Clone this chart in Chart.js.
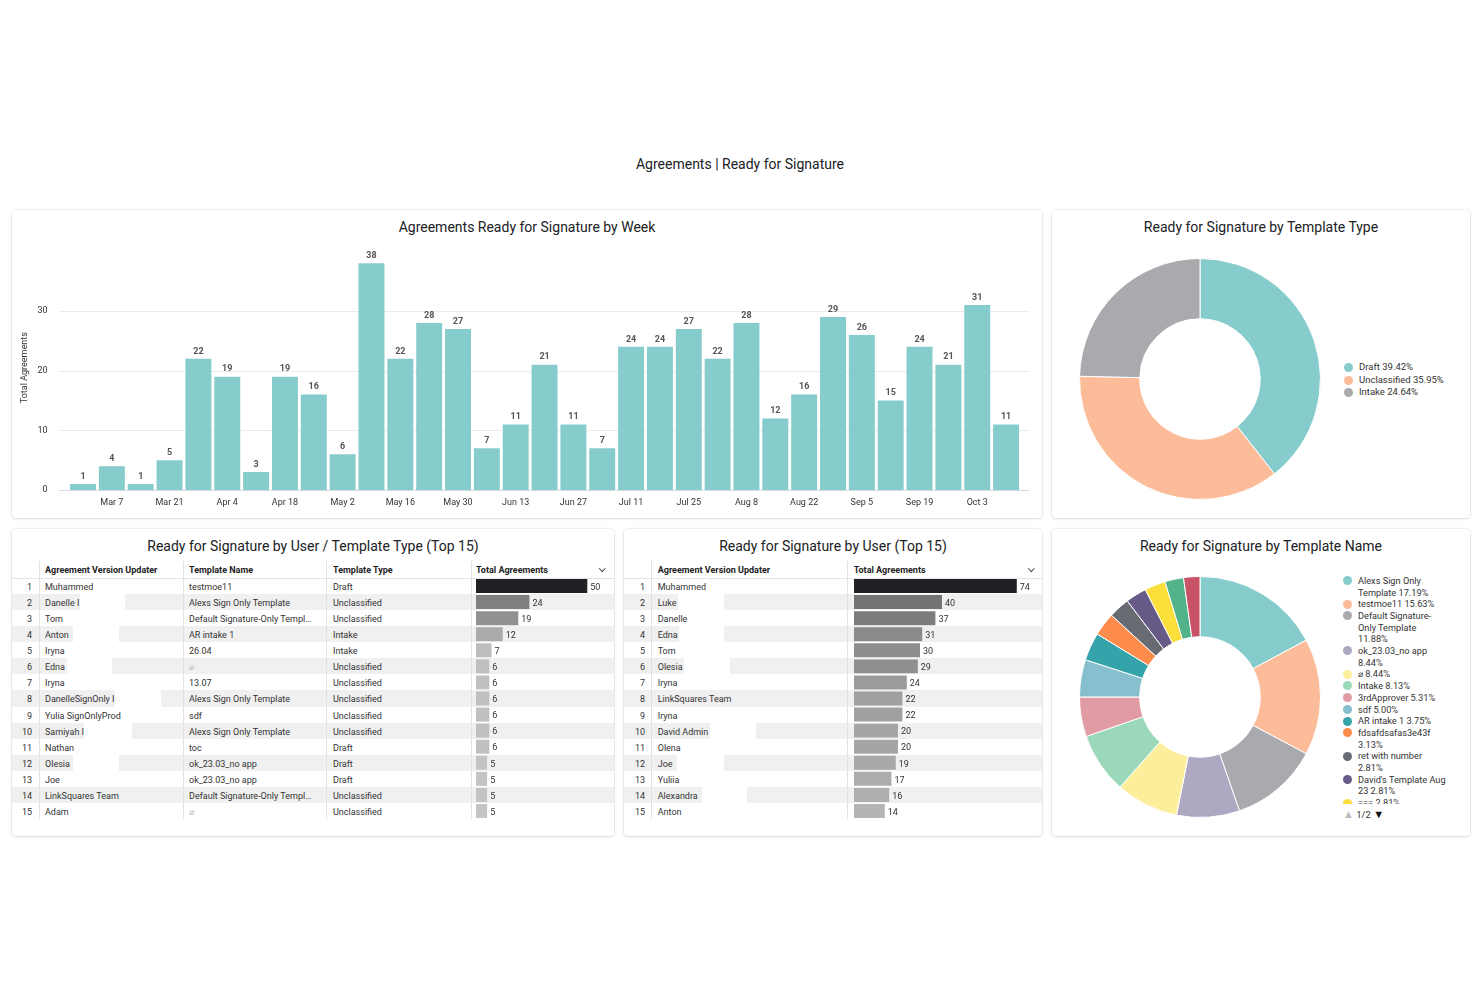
<!DOCTYPE html>
<html>
<head>
<meta charset="utf-8">
<title>Agreements | Ready for Signature</title>
<script src="https://cdn.jsdelivr.net/npm/chart.js@4.4.1/dist/chart.umd.min.js"></script>
<style>
  body { margin: 0; width: 1480px; height: 987px; background: #fff; position: relative; overflow: hidden;
         font-family: Roboto, "Noto Sans", sans-serif; color: #202124; }
  .page-title { position: absolute; left: 0; top: 156px; width: 1480px; text-align: center; font-size: 14px; }
  .card { position: absolute; background: #fff; border-radius: 4px;
          box-shadow: 0 0 0 1px rgba(0,0,0,0.05), 0 1px 3px rgba(0,0,0,0.10); }
  .card-title { position: absolute; left: 0; right: 0; top: 8px; text-align: center; font-size: 14px; line-height: 18px; }
  .box { position: absolute; }
  .row { position: absolute; left: 0; right: 0; height: 16.07px; }
  .row.alt { background: #f0f0f0; }
  .cell { position: absolute; top: 0; height: 100%; line-height: 18px; font-size: 9px; color: #333;
          white-space: nowrap; overflow: hidden; text-overflow: ellipsis; }
  .thead { position: absolute; left: 0; right: 0; height: 17px; border-bottom: 1px solid #e4e4e4; }
  .thead .cell { font-weight: bold; color: #222; line-height: 18px; }
  .sep { position: absolute; width: 1px; background: #e2e2e2; }
  .redact { position: absolute; top: 0; height: 100%; background: #fff; }
  .null { color: #bdbdbd; }
  .chev { position: absolute; width: 3.5px; height: 3.5px; border-right: 1.2px solid #444; border-bottom: 1.2px solid #444; transform: rotate(45deg); }
  .legend { position: absolute; font-size: 9.5px; color: #333; }
  .legend .item { display: flex; align-items: flex-start; }
  .legend .dot { width: 9px; height: 9px; border-radius: 50%; flex: none; margin-right: 6px; }
  .legend .txt { width: 90px; }
  #nameLegend { font-size: 9.2px; }
  #nameLegend .txt { width: 88px; }
  .pager { position: absolute; font-size: 9.5px; color: #333; }
  .pager .tri { font-size: 11px; }
</style>
</head>
<body>
<div class="page-title">Agreements | Ready for Signature</div>

<div class="card" style="left:12px;top:210px;width:1030px;height:308px">
  <div class="card-title">Agreements Ready for Signature by Week</div>
  <div class="box" style="left:0;top:30px;width:1030px;height:275px"><canvas id="weekChart"></canvas></div>
</div>

<div class="card" style="left:1052px;top:210px;width:418px;height:308px">
  <div class="card-title">Ready for Signature by Template Type</div>
  <div class="box" style="left:27px;top:48px;width:242px;height:242px"><canvas id="typeChart"></canvas></div>
  <div class="legend" id="typeLegend" style="left:292px;top:151px;line-height:12.7px"></div>
</div>

<div class="card" id="userTypeCard" style="left:12px;top:529px;width:602px;height:307px">
  <div class="card-title">Ready for Signature by User / Template Type (Top 15)</div>
  <div class="box" style="left:464px;top:49px;width:138px;height:241px"><canvas id="userTypeBars"></canvas></div>
</div>

<div class="card" id="userCard" style="left:624px;top:529px;width:418px;height:307px">
  <div class="card-title">Ready for Signature by User (Top 15)</div>
  <div class="box" style="left:229.7px;top:49px;width:188.3px;height:241px"><canvas id="userBars"></canvas></div>
</div>

<div class="card" style="left:1052px;top:529px;width:418px;height:307px">
  <div class="card-title">Ready for Signature by Template Name</div>
  <div class="box" style="left:27px;top:47px;width:242px;height:242px"><canvas id="nameChart"></canvas></div>
  <div class="legend" id="nameLegend" style="left:291px;top:45.8px;height:229px;overflow:hidden;line-height:11.7px"></div>
  <div class="pager" style="left:291px;top:279px"><span class="tri" style="color:#bbb">&#9650;</span> 1/2 <span class="tri" style="color:#111">&#9660;</span></div>
</div>

<script>
// weekly totals
var weekLabels = ["Feb 28", "Mar 7", "Mar 14", "Mar 21", "Mar 28", "Apr 4", "Apr 11", "Apr 18", "Apr 25",
  "May 2", "May 9", "May 16", "May 23", "May 30", "Jun 6", "Jun 13", "Jun 20", "Jun 27", "Jul 4", "Jul 11",
  "Jul 18", "Jul 25", "Aug 1", "Aug 8", "Aug 15", "Aug 22", "Aug 29", "Sep 5", "Sep 12", "Sep 19", "Sep 26",
  "Oct 3", "Oct 10"];
var weekCounts = [1, 4, 1, 5, 22, 19, 3, 19, 16, 6, 38, 22, 28, 27, 7, 11, 21, 11, 7, 24, 24, 27, 22, 28,
  12, 16, 29, 26, 15, 24, 21, 31, 11];
var yTicks = [0, 10, 20, 30];

// template type split
var typeLabels = ["Draft", "Unclassified", "Intake"];
var typeCounts = [216, 197, 135];

// template name split
var nameLabels = ["Alexs Sign Only Template", "testmoe11", "Default Signature-Only Template", "ok_23.03_no app",
  "\u2300", "Intake", "3rdApprover", "sdf", "AR intake 1", "fdsafdsafas3e43f", "ret with number",
  "David's Template Aug 23", "===", "Template 14", "Template 15"];
var nameCounts = [55, 50, 38, 27, 27, 26, 17, 16, 12, 10, 9, 9, 9, 8, 7];

// top 15 user / template type
var utUpdaters = ["Muhammed", "Danelle I", "Tom", "Anton", "Iryna", "Edna", "Iryna", "DanelleSignOnly I",
  "Yulia SignOnlyProd", "Samiyah I", "Nathan", "Olesia", "Joe", "LinkSquares Team", "Adam"];
var utTemplates = ["testmoe11", "Alexs Sign Only Template", "Default Signature-Only Template", "AR intake 1",
  "26.04", null, "13.07", "Alexs Sign Only Template", "sdf", "Alexs Sign Only Template", "toc",
  "ok_23.03_no app", "ok_23.03_no app", "Default Signature-Only Template", null];
var utTypes = ["Draft", "Unclassified", "Unclassified", "Intake", "Intake", "Unclassified", "Unclassified",
  "Unclassified", "Unclassified", "Unclassified", "Draft", "Draft", "Draft", "Unclassified", "Unclassified"];
var utTotals = [50, 24, 19, 12, 7, 6, 6, 6, 6, 6, 6, 5, 5, 5, 5];

// top 15 users
var uUpdaters = ["Muhammed", "Luke", "Danelle", "Edna", "Tom", "Olesia", "Iryna", "LinkSquares Team", "Iryna",
  "David Admin", "Olena", "Joe", "Yuliia", "Alexandra", "Anton"];
var uTotals = [74, 40, 37, 31, 30, 29, 24, 22, 22, 20, 20, 19, 17, 16, 14];

var typeColors = ["#87cccd", "#fdbc99", "#a9aaae"];
var nameColors = ["#87cccd", "#fdbc99", "#a9aaae", "#afa8c3", "#fdee9c", "#9bd7b9", "#e09ba4", "#88bfcf",
  "#35a3aa", "#fd8b4c", "#686b72", "#675a86", "#fddf3b", "#52b388", "#c85266"];

Chart.defaults.font.family = "Roboto, 'Noto Sans', sans-serif";
Chart.defaults.color = '#333';
Chart.defaults.animation = false;

// numbers next to bars
Chart.register({
  id: 'valueLabels',
  afterDatasetsDraw: function (chart, args, opts) {
    if (chart.config.type !== 'bar') return;
    var ctx = chart.ctx;
    var values = chart.data.datasets[0].data;
    var horizontal = chart.options.indexAxis === 'y';
    ctx.save();
    ctx.font = opts.font || '9px Roboto';
    ctx.fillStyle = opts.color || '#333';
    chart.getDatasetMeta(0).data.forEach(function (bar, i) {
      if (horizontal) {
        ctx.textAlign = 'left';
        ctx.textBaseline = 'middle';
        ctx.fillText(values[i], bar.x + 3, bar.y + 1.5);
      } else {
        ctx.textAlign = 'center';
        ctx.textBaseline = 'bottom';
        ctx.fillText(values[i], bar.x, bar.y - 3);
      }
    });
    ctx.restore();
  }
});

// value gridlines run a little past the first and last bar
var gridOverhang = {
  id: 'gridOverhang',
  beforeDatasetsDraw: function (chart) {
    var ctx = chart.ctx, a = chart.chartArea, y = chart.scales.y;
    ctx.save();
    ctx.strokeStyle = '#ebebeb';
    ctx.lineWidth = 1;
    yTicks.forEach(function (v) {
      if (v === 0) return;
      var py = Math.round(y.getPixelForValue(v)) + 0.5;
      ctx.beginPath();
      ctx.moveTo(a.left - 9.6, py);
      ctx.lineTo(a.right + 9, py);
      ctx.stroke();
    });
    var by = Math.round(y.getPixelForValue(0)) + 0.5;
    ctx.strokeStyle = '#d6dbe4';
    ctx.beginPath();
    ctx.moveTo(a.left - 9.6, by);
    ctx.lineTo(a.right + 9, by);
    ctx.stroke();
    ctx.restore();
  }
};

new Chart(document.getElementById('weekChart'), {
  type: 'bar',
  data: {
    labels: weekLabels,
    datasets: [{ data: weekCounts, backgroundColor: '#87cccd', barPercentage: 0.9, categoryPercentage: 1 }]
  },
  plugins: [gridOverhang],
  options: {
    responsive: true,
    maintainAspectRatio: false,
    layout: { padding: { top: 5.4, right: 21.5, left: 0, bottom: 0 } },
    plugins: {
      legend: { display: false },
      tooltip: { enabled: false },
      valueLabels: { font: 'bold 9px Roboto', color: '#555' }
    },
    scales: {
      x: {
        grid: { display: false, drawTicks: false },
        border: { display: false },
        ticks: {
          autoSkip: false, maxRotation: 0, padding: 7, font: { size: 9 },
          callback: function (v, i) { return i % 2 === 1 ? weekLabels[i] : ''; }
        },
        afterFit: function (s) { s.height = 25; }
      },
      y: {
        min: 0,
        max: 41,
        grid: { display: false, drawTicks: true, tickLength: 21, tickColor: 'rgba(0,0,0,0)' },
        border: { display: false },
        ticks: { padding: 0, font: { size: 9 } },
        afterBuildTicks: function (s) { s.ticks = yTicks.map(function (v) { return { value: v }; }); },
        title: { display: true, text: 'Total Agreements', font: { size: 9 }, padding: { top: 7.6, bottom: 0 } },
        afterFit: function (s) { s.width = 56.6; }
      }
    }
  }
});

function donut(id, labels, counts, colors) {
  new Chart(document.getElementById(id), {
    type: 'doughnut',
    data: { labels: labels, datasets: [{ data: counts, backgroundColor: colors, borderColor: '#fff', borderWidth: 1 }] },
    options: {
      responsive: true,
      maintainAspectRatio: false,
      cutout: '50%',
      plugins: { legend: { display: false }, tooltip: { enabled: false } }
    }
  });
}

function legend(id, labels, counts, colors) {
  var total = counts.reduce(function (a, b) { return a + b; }, 0);
  var el = document.getElementById(id);
  labels.forEach(function (label, i) {
    var item = document.createElement('div');
    item.className = 'item';
    var pct = (counts[i] / total * 100).toFixed(2) + '%';
    item.innerHTML = '<span class="dot" style="background:' + colors[i] + ';margin-top:' +
      (id === 'typeLegend' ? 1.8 : 1.35) + 'px"></span><span class="txt">' + label + ' ' + pct + '</span>';
    el.appendChild(item);
  });
}

donut('typeChart', typeLabels, typeCounts, typeColors);
legend('typeLegend', typeLabels, typeCounts, typeColors);
donut('nameChart', nameLabels, nameCounts, nameColors);
legend('nameLegend', nameLabels, nameCounts, nameColors);

// grey ramp for table bars, darker for bigger values
function shade(t) {
  var r = Math.round(214 + (32 - 214) * t);
  var g = Math.round(214 + (33 - 214) * t);
  var b = Math.round(214 + (36 - 214) * t);
  return 'rgb(' + r + ',' + g + ',' + b + ')';
}

function tableBars(id, values, max) {
  var top = Math.max.apply(null, values);
  new Chart(document.getElementById(id), {
    type: 'bar',
    data: {
      labels: values.map(function (v, i) { return i + 1; }),
      datasets: [{
        data: values,
        backgroundColor: values.map(function (v) { return shade(v / top); }),
        barPercentage: 0.87,
        categoryPercentage: 1
      }]
    },
    options: {
      indexAxis: 'y',
      responsive: true,
      maintainAspectRatio: false,
      layout: { padding: 0 },
      plugins: { legend: { display: false }, tooltip: { enabled: false }, valueLabels: { font: '9px Roboto', color: '#333' } },
      scales: { x: { display: false, min: 0, max: max }, y: { display: false } }
    }
  });
}

var ROW_TOP = 49, ROW_H = 16.07;

function buildTable(cardId, cols, numRight, seps, chevX, rowCount, cellText, redactions) {
  var card = document.getElementById(cardId);
  var html = '<div class="thead" style="top:32px">';
  cols.forEach(function (c) {
    html += '<div class="cell" style="left:' + c.x + 'px;width:' + c.w + 'px">' + c.title + '</div>';
  });
  html += '<div class="chev" style="left:' + chevX + 'px;top:5px"></div></div>';
  for (var i = 0; i < rowCount; i++) {
    html += '<div class="row' + (i % 2 ? ' alt' : '') + '" style="top:' + (ROW_TOP + i * ROW_H) + 'px">';
    html += '<div class="cell" style="left:0;width:' + numRight + 'px;text-align:right">' + (i + 1) + '</div>';
    cols.forEach(function (c, j) {
      if (c.bars) return;
      var t = cellText(i, j);
      html += '<div class="cell" style="left:' + c.x + 'px;width:' + c.w + 'px">' +
        (t === null ? '<span class="null">\u2300</span>' : t) + '</div>';
    });
    (redactions[i + 1] || []).forEach(function (r) {
      html += '<div class="redact" style="left:' + r[0] + 'px;width:' + (r[1] - r[0]) + 'px"></div>';
    });
    html += '</div>';
  }
  seps.forEach(function (x) {
    html += '<div class="sep" style="left:' + x + 'px;top:32px;height:' + (ROW_TOP + rowCount * ROW_H - 32) + 'px"></div>';
  });
  card.insertAdjacentHTML('afterbegin', html);
}

buildTable('userTypeCard', [
  { title: 'Agreement Version Updater', x: 33, w: 132 },
  { title: 'Template Name', x: 177, w: 127 },
  { title: 'Template Type', x: 321, w: 132 },
  { title: 'Total Agreements', x: 464, w: 120, bars: true }
], 20, [26.5, 170.5, 313.5, 458.5], 588, utTotals.length, function (i, j) {
  return [utUpdaters, utTemplates, utTypes][j][i];
}, { 2: [[68, 113]], 4: [[61, 107]], 6: [[55, 100]], 8: [[103, 149]], 10: [[72, 120]], 12: [[61, 107]] });

buildTable('userCard', [
  { title: 'Agreement Version Updater', x: 33.7, w: 185 },
  { title: 'Total Agreements', x: 229.7, w: 150, bars: true }
], 21, [26.7, 222.7], 405, uTotals.length, function (i, j) {
  return uUpdaters[i];
}, { 2: [[54, 100]], 4: [[55, 100]], 6: [[60, 106]], 10: [[86, 132]], 12: [[53, 100]], 14: [[78, 123]] });

tableBars('userTypeBars', utTotals, 62);
tableBars('userBars', uTotals, 85.6);
</script>
</body>
</html>
